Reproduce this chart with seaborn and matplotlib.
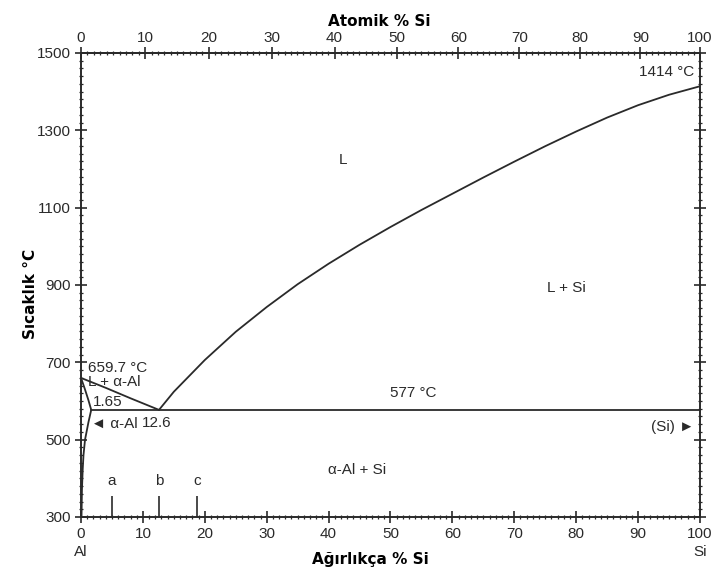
import numpy as np
import matplotlib
matplotlib.use("Agg")
import matplotlib.pyplot as plt
from matplotlib.ticker import MultipleLocator
import seaborn as sns

# Al-Si phase diagram data (weight % Si vs temperature in C)
liq_si_wt = [12.6, 15, 20, 25, 30, 35, 40, 45, 50, 55, 60, 65, 70, 75, 80, 85, 90, 95, 100]
liq_si_T = [577, 624, 706, 779, 843, 902, 955, 1004, 1050, 1094, 1136, 1178, 1219, 1259, 1297, 1333, 1365, 1392, 1414]

liq_al_wt = [0, 4, 8, 12.6]
liq_al_T = [659.7, 634, 607, 577]

solidus_wt = [0, 0.6, 1.2, 1.65]
solidus_T = [659.7, 632, 602, 577]

solvus_wt = [1.65, 1.2, 0.65, 0.4, 0.27, 0.15, 0.08]
solvus_T = [577, 545, 500, 460, 422, 370, 300]

eutectic_wt = [1.65, 100]
eutectic_T = [577, 577]

mark_x = [5.0, 12.6, 18.7]
mark_names = ["a", "b", "c"]

x_ticks = list(range(0, 101, 10))
y_ticks = list(range(300, 1501, 200))

M_AL, M_SI = 26.982, 28.086


def wt_to_at(w):
    w = np.clip(np.asarray(w, dtype=float), 0, 100)
    a = (w / M_SI) / (w / M_SI + (100 - w) / M_AL + 1e-12)
    return 100 * a


def at_to_wt(a):
    a = np.clip(np.asarray(a, dtype=float), 0, 100)
    w = a * M_SI / (a * M_SI + (100 - a) * M_AL + 1e-12)
    return 100 * w


sns.set_theme(style="ticks")
plt.rcParams['font.family'] = ['Liberation Sans', 'DejaVu Sans']

ink = "#2a2a2a"
fig = plt.figure(figsize=(7.15, 5.68), dpi=100)
ax = fig.add_axes([0.1133, 0.0898, 0.8657, 0.8169])

for xs, ys in [(liq_si_wt, liq_si_T), (liq_al_wt, liq_al_T), (solidus_wt, solidus_T),
               (solvus_wt, solvus_T), (eutectic_wt, eutectic_T)]:
    sns.lineplot(x=xs, y=ys, sort=False, estimator=None, color=ink, lw=1.3, ax=ax)

ax.vlines(mark_x, 300, 354, color=ink, lw=1.2)
for mx, name in zip(mark_x, mark_names):
    ax.text(mx, 375, name, ha="center", va="bottom", fontsize=11, color=ink)

ax.set_xlim(0, 100)
ax.set_ylim(300, 1500)
ax.set_xticks(x_ticks)
ax.set_yticks(y_ticks)
ax.xaxis.set_minor_locator(MultipleLocator(1))
ax.yaxis.set_minor_locator(MultipleLocator(20))
ax.tick_params(which="major", direction="inout", length=8, width=1.2, labelsize=11,
               labelcolor=ink, color=ink, right=True)
ax.tick_params(which="minor", direction="inout", length=3, width=0.9, color=ink, right=True)
for sp in ax.spines.values():
    sp.set_color(ink)
    sp.set_linewidth(1.4)

top = ax.secondary_xaxis('top', functions=(wt_to_at, at_to_wt))
top.set_xticks(x_ticks)
top.xaxis.set_minor_locator(MultipleLocator(1))
top.tick_params(which="major", direction="inout", length=8, width=1.2, labelsize=11,
                labelcolor=ink, color=ink, pad=2)
top.tick_params(which="minor", direction="inout", length=3, width=0.9, color=ink)
fig.text(0.531, 0.963, "Atomik % Si", ha="center", va="center", fontsize=11,
         fontweight="bold", family="DejaVu Sans", color="black")

ax.set_xlabel("Ağırlıkça % Si", fontsize=11, fontweight="bold", family="DejaVu Sans",
              color="black")
ax.xaxis.set_label_coords(0.467, -0.075)
ax.set_ylabel("Sıcaklık °C", fontsize=11, fontweight="bold", family="DejaVu Sans",
              color="black")
ax.yaxis.set_label_coords(-0.07, 0.48)

# region and point labels
kw = dict(fontsize=11, color=ink)
ax.text(42.3, 1223, "L", ha="center", va="center", **kw)
ax.text(78.4, 892, "L + Si", ha="center", va="center", **kw)
ax.text(44.6, 422, "α-Al + Si", ha="center", va="center", **kw)
ax.text(53.6, 621, "577 °C", ha="center", va="center", **kw)
ax.text(99.0, 533, "(Si) ►", ha="right", va="center", **kw)
ax.text(99.0, 1450, "1414 °C", ha="right", va="center", **kw)
ax.text(1.1, 686, "659.7 °C", ha="left", va="center", **kw)
ax.text(1.1, 648, "L + α-Al", ha="left", va="center", **kw)
ax.text(1.9, 598, "1.65", ha="left", va="center", **kw)
ax.text(1.6, 540, "◄ α-Al", ha="left", va="center", **kw)
ax.text(9.9, 544, "12.6", ha="left", va="center", **kw)
ax.text(0, -0.075, "Al", transform=ax.transAxes, ha="center", va="center", **kw)
ax.text(1.0, -0.075, "Si", transform=ax.transAxes, ha="center", va="center", **kw)

plt.savefig("out.png", dpi=100)
